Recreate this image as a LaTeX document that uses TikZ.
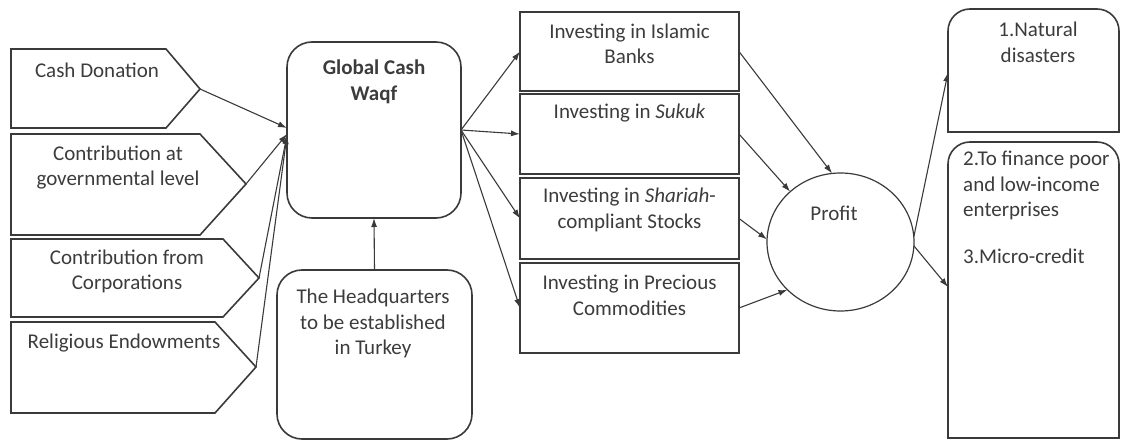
\documentclass[tikz,border=0pt]{standalone}
\usepackage{fontspec}
\setmainfont{Carlito}
\usetikzlibrary{arrows.meta,shapes.geometric}
\definecolor{ln}{HTML}{3A3A3A}
\definecolor{tx}{HTML}{3C3C3C}
\begin{document}
\begin{tikzpicture}[x=1pt,y=-1pt,
  box/.style={draw=ln,line width=1.6pt},
  area/.style={inner sep=0pt,outer sep=0pt},
  arr/.style={draw=ln,line width=1.1pt,-{Latex[length=9pt,width=6pt]}},
  txt/.style={text=tx,font=\fontsize{21}{25.5}\selectfont,align=center,inner sep=0pt}]
\useasboundingbox (0,0) rectangle (1121,441);
% left pentagons
\draw[box] (11,49) -- (166,49) -- (200,89) -- (166,128) -- (11,128) -- cycle;
\coordinate (cdtip) at (200,89);
\node[txt] (cd) at (97,70) {Cash Donation};
\draw[box] (11,134) -- (200,134) -- (246,184) -- (200,235) -- (11,235) -- cycle;
\coordinate (govtip) at (246,184);
\node[txt] (gov) at (118,167.5) {Contribution at\\governmental level};
\draw[box] (11,239) -- (223,239) -- (259,278) -- (223,317) -- (11,317) -- cycle;
\coordinate (corptip) at (259,278);
\node[txt] (corp) at (127,271.5) {Contribution from\\Corporations};
\draw[box] (11,322) -- (215,322) -- (256,367) -- (215,413) -- (11,413) -- cycle;
\coordinate (reltip) at (256,367);
\node[txt] (rel) at (124,343) {Religious Endowments};
% waqf
\node[box,area,rounded corners=25pt,minimum width=174pt,minimum height=176pt] (waqf) at (374,130) {};
\node[txt,font=\fontsize{21}{25.5}\selectfont\bfseries] (waqft) at (374,82) {Global Cash\\Waqf};
% headquarters
\node[box,area,rounded corners=25pt,minimum width=195pt,minimum height=169pt] (hq) at (374.5,354.5) {};
\node[txt] (hqt) at (373,323.5) {The Headquarters\\to be established\\in Turkey};
% investing boxes
\node[box,area,minimum width=219pt,minimum height=79pt] (b1) at (629.5,51.5) {};
\node[box,area,minimum width=219pt,minimum height=80pt] (b2) at (629.5,134) {};
\node[box,area,minimum width=219pt,minimum height=81pt] (b3) at (629.5,218.5) {};
\node[box,area,minimum width=219pt,minimum height=90pt] (b4) at (629.5,308) {};
\node[txt] (b1t) at (629.5,44) {Investing in Islamic\\Banks};
\node[txt] (b2t) at (629.5,113) {Investing in \textit{Sukuk}};
\node[txt] (b3t) at (629.5,210) {Investing in \textit{Shariah}-\\compliant Stocks};
\node[txt] (b4t) at (629.5,295.5) {Investing in Precious\\Commodities};
% profit
\node[draw=ln,line width=1.2pt,ellipse,area,minimum width=147pt,minimum height=138pt] (profit) at (840.5,242) {};
\node[txt] (profitt) at (834,213) {Profit};
% right boxes
\node[area,minimum width=171pt,minimum height=123pt] (r1) at (1033.5,70.5) {};
\draw[box,rounded corners=22pt] (r1.south west) -- (r1.north west) -- (r1.north east) -- (r1.south east);
\draw[box,line cap=rect] (r1.south west) -- (r1.south east);
\node[txt] (r1t) at (1038,42.5) {1.Natural\\disasters};
\node[area,minimum width=171pt,minimum height=296pt] (r2) at (1033.5,290) {};
\draw[box,rounded corners=22pt] (r2.south west) -- (r2.north west) -- (r2.north east) -- (r2.south east);
\draw[box,line cap=rect] (r2.south west) -- (r2.south east);
\node[txt,align=left,anchor=north west] (r2t) at (963,151) {2.To finance poor\\and low-income\\enterprises\\[21pt]3.Micro-credit};
% arrows in
\draw[arr] (cdtip) -- ([yshift=2pt]waqf.west);
\draw[arr] (govtip) -- ([yshift=-4pt]waqf.west);
\draw[arr] (corptip) -- ([yshift=-5pt]waqf.west);
\draw[arr] (reltip) -- ([yshift=-5pt]waqf.west);
\draw[arr] (hq.north) -- (waqf.south);
% waqf to investing
\draw[arr] (waqf.east) -- (b1.west);
\draw[arr] (waqf.east) -- (b2.west);
\draw[arr] (waqf.east) -- (b3.west);
\draw[arr] (waqf.east) -- (b4.west);
% investing to profit
\draw[arr] (b1.east) -- (profit.97);
\draw[arr] (b2.east) -- (profit.135);
\draw[arr] (b3.east) -- (profit.178);
\draw[arr] (b4.east) -- (profit.222);
% profit to uses
\draw[arr] (profit.4) -- ([yshift=-2pt]r1.west);
\draw[arr] (profit.-3) -- ([yshift=3pt]r2.west);
\end{tikzpicture}
\end{document}
